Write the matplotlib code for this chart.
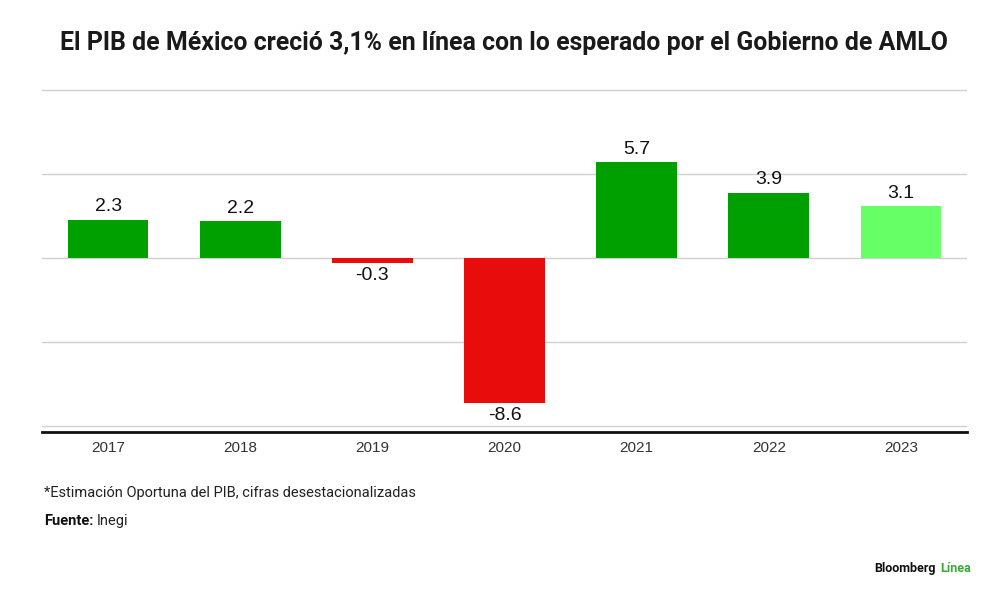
import matplotlib.pyplot as plt
import numpy as np

years = ["2017", "2018", "2019", "2020", "2021", "2022", "2023"]
growth = [2.3, 2.2, -0.3, -8.6, 5.7, 3.9, 3.1]
bar_colors = ["#00A000", "#00A000", "#E80C0C", "#E80C0C", "#00A000", "#00A000", "#66FF66"]

plt.rcParams["font.family"] = ["Roboto", "DejaVu Sans"]

fig = plt.figure(figsize=(10, 5.97), dpi=100)
ax = fig.add_axes([0.042, 0.2764, 0.925, 0.5756])

x = np.arange(len(years))
ax.bar(x, growth, width=0.61, color=bar_colors, zorder=3)

for xi, v in zip(x, growth):
    if v >= 0:
        ax.text(xi, v + 0.25, f"{v}", ha="center", va="bottom", fontsize=14,
                color="#111111", family="Liberation Sans")
    else:
        ax.text(xi, v - 0.25, f"{v}", ha="center", va="top", fontsize=14,
                color="#111111", family="Liberation Sans")

ax.set_xlim(-0.5, 6.5)
ax.set_ylim(-10.33, 10.1)
ax.set_yticks([-10, -5, 0, 5, 10])
ax.yaxis.grid(True, color="#d0d0d0", linewidth=1, zorder=0)
ax.tick_params(axis="y", left=False, labelleft=False)
ax.tick_params(axis="x", bottom=False, labelsize=11, labelcolor="#333333", pad=3)
ax.set_xticks(x)
ax.set_xticklabels(years, family="Liberation Sans")
for s in ["top", "left", "right"]:
    ax.spines[s].set_visible(False)
ax.spines["bottom"].set_linewidth(2)
ax.spines["bottom"].set_color("#111111")

fig.text(0.504, 0.928, "El PIB de México creció 3,1% en línea con lo esperado por el Gobierno de AMLO",
         ha="center", va="center", fontsize=17.9, fontweight="bold", color="#1a1a1a")

fig.text(0.044, 0.175, "*Estimación Oportuna del PIB, cifras desestacionalizadas",
         ha="left", va="center", fontsize=10.5, color="#222222")
fig.text(0.044, 0.128, "Fuente:", ha="left", va="center", fontsize=10.5,
         fontweight="bold", color="#111111")
fig.text(0.097, 0.128, "Inegi", ha="left", va="center", fontsize=10.5, color="#222222")

fig.text(0.936, 0.048, "Bloomberg", ha="right", va="center", fontsize=9,
         fontweight="bold", color="#111111")
fig.text(0.940, 0.048, "Línea", ha="left", va="center", fontsize=9,
         fontweight="bold", color="#3aa83a")

fig.savefig("out.png", dpi=100)
